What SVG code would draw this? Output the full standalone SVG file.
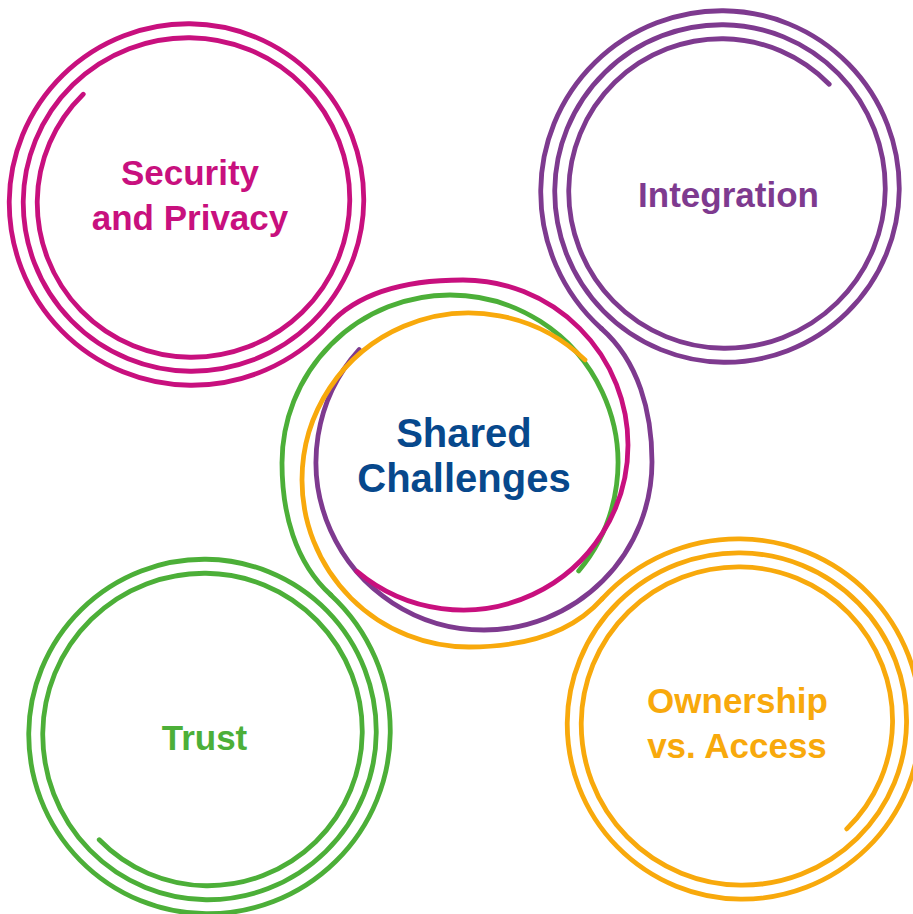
<svg xmlns="http://www.w3.org/2000/svg" width="913" height="914" viewBox="0 0 913 914">
  <style>
    .ring { fill: none; stroke-width: 4.8; stroke-linecap: round; stroke-linejoin: round; }
    .mag { stroke: #C8107E; }
    .pur { stroke: #7E3A8F; }
    .grn { stroke: #4CAF38; }
    .org { stroke: #F8A90C; }
    .lbl { font-family: "Liberation Sans", Arial, Helvetica, sans-serif; font-weight: 700; font-size: 35px; text-anchor: middle; }
    .big { font-size: 40px; fill: #07488C; }
  </style>
  <rect width="913" height="914" fill="#ffffff"/>

  <!-- corner topics: each one is a 2.5-turn spiral that winds outward -->
  <g id="node-security">
    <path class="ring mag" d="M83.23 94.23 A151.9 151.9 0 0 0 37.25 201 A154.5 154.5 0 0 0 190 357.25 A158 158 0 0 0 349.75 201 A161.5 161.5 0 0 0 190 37.75 A165 165 0 0 0 23.25 201 A168.5 168.5 0 0 0 190 371.25 A172 172 0 0 0 363.75 201 A175.5 175.5 0 0 0 190 23.75 A179 179 0 0 0 9.25 201 A182.5 182.5 0 0 0 190 385.25 A185.7 185.7 0 0 0 328.8 325"/>
    <text class="lbl" fill="#C8107E" x="190" y="185">Security</text>
    <text class="lbl" fill="#C8107E" x="190" y="230">and Privacy</text>
  </g>

  <g id="node-integration">
    <path class="ring pur" d="M829.21 84.29 A150.4 150.4 0 0 0 723.5 38.75 A153 153 0 0 0 568.75 190 A156.5 156.5 0 0 0 723.5 348.25 A160 160 0 0 0 885.25 190 A163.5 163.5 0 0 0 723.5 24.75 A167 167 0 0 0 554.75 190 A170.5 170.5 0 0 0 723.5 362.25 A174 174 0 0 0 899.25 190 A177.5 177.5 0 0 0 723.5 10.75 A181 181 0 0 0 540.75 190 A183.7 183.7 0 0 0 601.5 328.6"/>
    <text class="lbl" fill="#7E3A8F" x="728.5" y="207">Integration</text>
  </g>

  <g id="node-trust">
    <path class="ring grn" d="M99.23 839.77 A151.9 151.9 0 0 0 206 885.75 A154.5 154.5 0 0 0 362.25 733 A158 158 0 0 0 206 573.25 A161.5 161.5 0 0 0 42.75 733 A165 165 0 0 0 206 899.75 A168.5 168.5 0 0 0 376.25 733 A172 172 0 0 0 206 559.25 A175.5 175.5 0 0 0 28.75 733 A179 179 0 0 0 206 913.75 A182.5 182.5 0 0 0 390.25 733 A185.2 185.2 0 0 0 330.8 594.9"/>
    <text class="lbl" fill="#4CAF38" x="204.5" y="750">Trust</text>
  </g>

  <g id="node-ownership">
    <path class="ring org" d="M846.75 828.85 A151.3 151.3 0 0 0 892.55 722.5 A153.9 153.9 0 0 0 740.4 566.85 A157.4 157.4 0 0 0 581.25 722.5 A160.9 160.9 0 0 0 740.4 885.15 A164.4 164.4 0 0 0 906.55 722.5 A167.9 167.9 0 0 0 740.4 552.85 A171.4 171.4 0 0 0 567.25 722.5 A174.9 174.9 0 0 0 740.4 899.15 A178.4 178.4 0 0 0 920.55 722.5 A181.9 181.9 0 0 0 740.4 538.85 A184.6 184.6 0 0 0 602.1 598.9"/>
    <text class="lbl" fill="#F8A90C" x="737.5" y="713">Ownership</text>
    <text class="lbl" fill="#F8A90C" x="737" y="758">vs. Access</text>
  </g>

  <!-- each spiral's outer strand reverses and wraps the shared centre -->
  <g id="connectors">
    <path class="ring grn" d="M330.8 594.9 C294.5 562.1 282 511.9 282 463 A168 168 0 0 1 450 295 A168 168 0 0 1 578.69 570.99"/>
    <path class="ring pur" d="M601.5 328.6 C638.7 361.4 652 412.4 652 462 A168 168 0 0 1 484 630 A168 168 0 0 1 359.15 349.59"/>
    <path class="ring mag" d="M328.8 325 C361.5 288.4 413.9 280 463 280 A165 165 0 0 1 628 445 A165 165 0 0 1 356.94 571.39"/>
    <path class="ring org" d="M602.1 598.9 C569.3 635.6 518.2 647 469 647 A167 167 0 0 1 302 480 A167 167 0 0 1 585.01 359.88"/>
  </g>

  <g id="node-shared">
    <text class="lbl big" x="464" y="447">Shared</text>
    <text class="lbl big" x="464" y="492">Challenges</text>
  </g>
</svg>
